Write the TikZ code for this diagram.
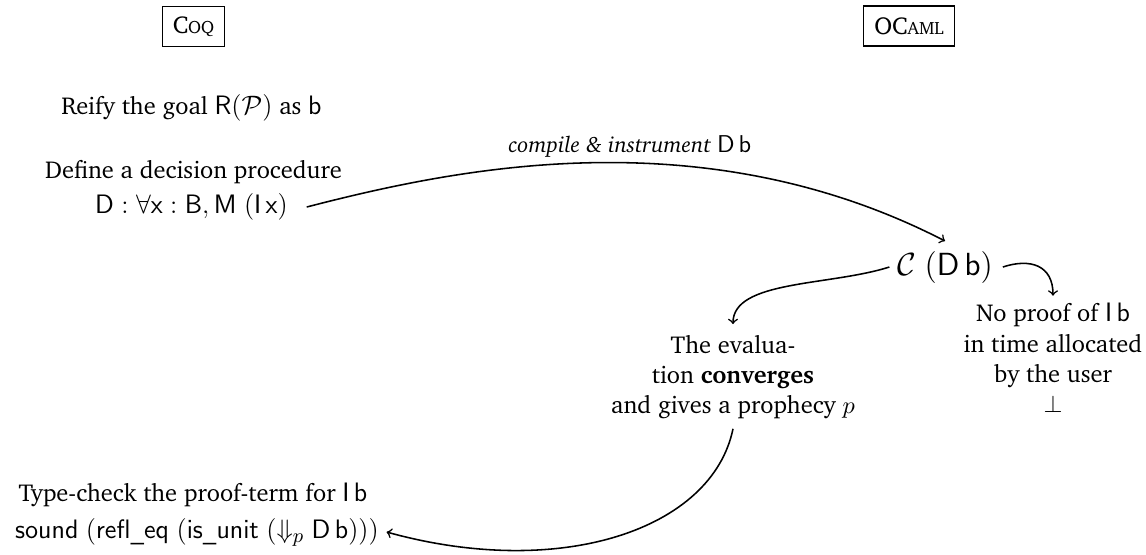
\documentclass[tikz,border=0pt]{standalone}
\usepackage[T1]{fontenc}
\usepackage{charter}
\newcommand{\fsc}[1]{{\fontsize{8}{9}\selectfont #1}}
\newcommand{\mth}[1]{{\fontsize{12.2}{14}\selectfont$#1$}}
\begin{document}
\begin{tikzpicture}[x=0.45pt,y=-0.45pt,
  every node/.style={inner sep=0pt, outer sep=0pt},
  langbox/.style={draw, line width=0.5pt, inner xsep=4.8pt, minimum height=18pt, font=\fontsize{11}{13.6}\selectfont},
  txt/.style={align=center, font=\fontsize{11}{13.6}\selectfont},
  mathline/.style={font=\fontsize{12.2}{14}\selectfont},
  conn/.style={->, line width=0.7pt}]
\useasboundingbox (0,0) rectangle (1146,554);
\node[langbox] (coq) at (193.5,26.5) {C\fsc{OQ}};
\node[langbox] (ocaml) at (909,26) {OC\fsc{AML}};
\node[txt] (reify) at (191.5,108) {Reify the goal \mth{\mathsf{R}(\mathcal{P})} as \mth{\mathsf{b}}};
\node[txt] (define) at (193.5,172) {Define a decision procedure};
\node[mathline] (dsig) at (191.5,207) {$\mathsf{D}:\forall\mathsf{x}:\mathsf{B},\mathsf{M}\ (\mathsf{I}\,\mathsf{x})$};
\node[font=\fontsize{14.1}{17}\selectfont] (cdb) at (945,267) {$\mathcal{C}\ (\mathsf{D}\,\mathsf{b})$};
\node[txt] (eval) at (733,377) {The evalua-\\tion \textbf{converges}\\and gives a prophecy $p$};
\node[txt] (noproof) at (1053,358) {No proof of \mth{\mathsf{I}\,\mathsf{b}}\\in time allocated\\by the user\\$\bot$};
\node[txt] (tc) at (193,495) {Type-check the proof-term for \mth{\mathsf{I}\,\mathsf{b}}};
\node[mathline] (sound) at (197,532) {$\mathsf{sound}\ (\mathsf{refl\_eq}\ (\mathsf{is\_unit}\ (\Downarrow_p\mathsf{D}\,\mathsf{b})))$};
\node[txt, font=\itshape\fontsize{10}{12}\selectfont] (lbl) at (630,146) {compile \& instrument {\fontsize{11}{13}\selectfont$\mathsf{D}\,\mathsf{b}$}};
\draw[conn] ([xshift=8.5pt]dsig.east) .. controls (450,170) and (700,115) .. ([yshift=4.5pt]cdb.north);
\draw[conn] ([xshift=-3.5pt]cdb.west) .. controls (830,286) and (733,280) .. ([yshift=5pt]eval.north);
\draw[conn] ([xshift=4.5pt]cdb.east) .. controls (1030,258) and (1053,265) .. ([yshift=3.5pt]noproof.north);
\draw[conn] ([yshift=-4.5pt]eval.south) .. controls (712,530) and (560,580) .. ([xshift=3.5pt]sound.east);
\end{tikzpicture}
\end{document}
